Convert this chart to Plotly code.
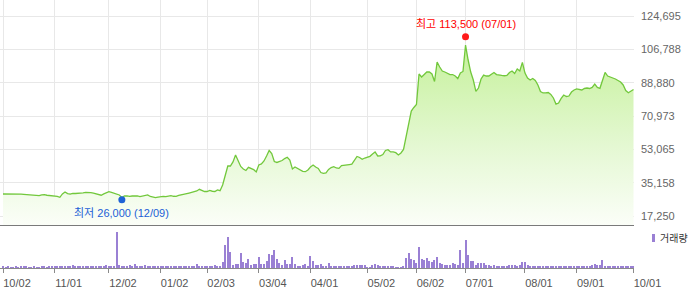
import pandas as pd
import plotly.graph_objects as go

# ---- trading calendar (KRX) ----
holidays = ['2024-10-03', '2024-10-09', '2024-12-25', '2024-12-31', '2025-01-01',
            '2025-01-27', '2025-01-28', '2025-01-29', '2025-01-30', '2025-03-03',
            '2025-05-01', '2025-05-05', '2025-05-06', '2025-06-03', '2025-06-06',
            '2025-08-15']
dates = [d.strftime('%Y-%m-%d') for d in pd.bdate_range('2024-10-02', '2025-10-01')
         if d.strftime('%Y-%m-%d') not in holidays]

tick_dates = ['2024-10-02', '2024-11-01', '2024-12-02', '2025-01-02', '2025-02-03',
              '2025-03-04', '2025-04-01', '2025-05-02', '2025-06-02', '2025-07-01',
              '2025-08-01', '2025-09-01', '2025-10-01']
tick_text = ['10/02', '11/01', '12/02', '01/02', '02/03', '03/04', '04/01',
             '05/02', '06/02', '07/01', '08/01', '09/01', '10/01']

y_ticks = [17250, 35158, 53065, 70973, 88880, 106788, 124695]
y_tick_text = ['17,250', '35,158', '53,065', '70,973', '88,880', '106,788', '124,695']

# closing prices (won)
price = [
    29070, 29070, 29100, 29300, 29350, 29450, 29100, 29050, 28900, 28800,
    28550, 28500, 28400, 28300, 28150, 28550, 28700, 28400, 28300, 28000,
    28050, 27750, 27300, 29100, 30150, 29300, 29050, 29450, 29350, 29600,
    29650, 29700, 29900, 29950, 29850, 29550, 29150, 28500, 28400, 29100,
    29900, 30300, 30000, 29600, 29150, 28550, 27200, 28000, 28100, 27750,
    28000, 28150, 28000, 27650, 27850, 28300, 28550, 27750, 27450, 27100,
    27350, 27650, 27750, 27650, 27900, 28150, 27850, 27750, 28300, 28550,
    28800, 29100, 29600, 29950, 30150, 30700, 31600, 30950, 30400, 30400,
    30950, 30550, 30400, 31250, 30850, 33900, 39500, 44100, 44100, 46300,
    50000, 46400, 43850, 42500, 41700, 43400, 43000, 42200, 40900, 44650,
    45200, 46800, 49500, 52450, 50850, 46500, 46000, 46500, 47050, 48100,
    48800, 47300, 42500, 43550, 42850, 41950, 41200, 41050, 41950, 43550,
    44650, 43550, 42800, 40600, 40200, 40400, 42250, 43300, 43750, 43050,
    42850, 44350, 44400, 44500, 44900, 45100, 47350, 49250, 48700, 47700,
    48400, 49050, 49300, 50550, 51650, 49500, 49600, 50300, 52450, 52850,
    51650, 51650, 51250, 50050, 51100, 53000, 60250, 66150, 73650, 75550,
    77150, 93550, 91900, 93250, 94600, 94600, 93550, 89500, 99980, 97300,
    95150, 94600, 93900, 93250, 93250, 92450, 91100, 94050, 94900, 109100,
    101050, 94600, 90300, 84150, 86000, 90850, 92950, 92450, 92450, 93550,
    94350, 93250, 92850, 92750, 92600, 92750, 94350, 95150, 93800, 96250,
    95150, 99800, 94050, 91400, 90300, 91100, 90050, 87650, 84150, 83350,
    83350, 83600, 82550, 80650, 77400, 77950, 80400, 82250, 81450, 81700,
    83850, 84950, 85500, 85050, 84950, 85750, 86000, 85750, 86300, 88150,
    86300, 85850, 90300, 94350, 92450, 91900, 91650, 90850, 90050, 89250,
    87650, 84650, 83500, 84400, 85200,
]

# trading volume (thousand shares)
volume = [
    120, 100, 130, 100, 100, 120, 100, 130, 200, 120,
    100, 100, 130, 100, 100, 120, 130, 100, 150, 130,
    170, 150, 200, 170, 200, 150, 150, 270, 200, 200,
    170, 200, 150, 130, 150, 170, 200, 200, 230, 150,
    300, 170, 150, 200, 3600, 300, 250, 230, 200, 270,
    200, 370, 200, 150, 170, 270, 200, 150, 150, 130,
    130, 150, 200, 130, 130, 150, 170, 130, 150, 150,
    170, 200, 150, 150, 170, 400, 200, 230, 170, 150,
    150, 150, 270, 150, 200, 600, 2270, 3070, 1600, 270,
    430, 370, 1470, 600, 500, 930, 330, 370, 370, 1070,
    370, 370, 670, 1370, 1270, 1770, 870, 500, 330, 770,
    370, 370, 1070, 370, 200, 200, 270, 370, 200, 1170,
    670, 270, 270, 370, 230, 200, 470, 230, 170, 130,
    130, 170, 170, 130, 150, 200, 270, 270, 270, 270,
    270, 100, 100, 330, 370, 270, 130, 130, 170, 130,
    200, 200, 100, 100, 100, 200, 1000, 1470, 870, 800,
    500, 2070, 870, 800, 1000, 670, 600, 830, 1070, 470,
    370, 270, 270, 270, 470, 370, 330, 1800, 530, 2770,
    1270, 700, 700, 330, 530, 500, 500, 330, 270, 230,
    270, 200, 130, 130, 170, 230, 270, 270, 270, 230,
    330, 600, 600, 270, 200, 130, 130, 170, 170, 170,
    170, 130, 150, 170, 130, 150, 170, 130, 150, 130,
    150, 130, 170, 200, 130, 130, 130, 200, 270, 370,
    270, 270, 800, 200, 200, 130, 150, 130, 130, 130,
    130, 130, 130, 130, 130,
]

n = min(len(dates), len(price), len(volume))
dates, price, volume = dates[:n], price[:n], volume[:n]

hi_idx, hi_val, hi_text = 179, 113500, '최고 113,500 (07/01)'
lo_idx, lo_val, lo_text = 46, 26000, '최저 26,000 (12/09)'

FONT = 'Liberation Sans, Arial, Noto Sans CJK KR, sans-serif'
W, H = 700, 289
ML, MR, MT, MB = 0, 66, 0, 21
PW, PH = W - ML - MR, H - MT - MB

fig = go.Figure()

fig.add_trace(go.Scatter(
    x=dates, y=price, mode='lines', xaxis='x', yaxis='y',
    line=dict(color='#72c83c', width=1.3),
    fill='tozeroy',
    fillgradient=dict(type='vertical', start=12415, stop=108000,
                      colorscale=[[0, 'rgb(251,254,248)'],
                                  [0.45, 'rgb(228,248,210)'],
                                  [1, 'rgb(198,241,156)']]),
    hoverinfo='skip', showlegend=False))

fig.add_trace(go.Scatter(
    x=[dates[hi_idx]], y=[hi_val], mode='markers', xaxis='x', yaxis='y',
    marker=dict(color='#ff1a1a', size=7), showlegend=False, hoverinfo='skip'))
fig.add_trace(go.Scatter(
    x=[dates[lo_idx]], y=[lo_val], mode='markers', xaxis='x', yaxis='y',
    marker=dict(color='#1f62d6', size=7), showlegend=False, hoverinfo='skip'))

fig.add_trace(go.Bar(
    x=dates, y=volume, xaxis='x2', yaxis='y2', width=0.42,
    marker=dict(color='#9a80d4', line=dict(width=0)),
    showlegend=False, hoverinfo='skip'))

xr = [-1.16, n - 1 + 0.19]
y_top = 124695 + 16 * 537.2
y_bot = 17250 - 9 * 537.2

fig.update_layout(
    width=W, height=H,
    margin=dict(l=ML, r=MR, t=MT, b=MB, pad=0),
    paper_bgcolor='white', plot_bgcolor='white',
    font=dict(family=FONT, size=11, color='#555'),
    bargap=0,
    xaxis=dict(domain=[0, 1], anchor='y', type='category', range=xr,
               tickvals=tick_dates, ticktext=tick_text, showticklabels=False,
               showgrid=True, gridcolor='#e8e8e8', gridwidth=1,
               showline=True, linecolor='#7a7a7a', linewidth=1, ticks='',
               zeroline=False),
    xaxis2=dict(domain=[0, 1], anchor='y2', type='category', range=xr, matches='x',
                tickvals=tick_dates, ticktext=tick_text, showgrid=False,
                showline=True, linecolor='#8a8a8a', linewidth=1,
                ticks='outside', ticklen=4, tickcolor='#8a8a8a', tickwidth=1,
                ticklabelshift=14, ticklabelstandoff=1,
                tickfont=dict(size=11, color='#555'), zeroline=False),
    yaxis=dict(domain=[(PH - 225) / PH, 1], anchor='x', side='right',
               range=[y_bot, y_top], tickvals=y_ticks, ticktext=y_tick_text,
               showgrid=True, gridcolor='#e8e8e8', gridwidth=1, zeroline=False,
               ticks='', ticklabelstandoff=6,
               tickfont=dict(size=11, color='#666')),
    yaxis2=dict(domain=[0, (PH - 226) / PH], anchor='x2', range=[0, 4200],
                showgrid=False, zeroline=False, showticklabels=False, ticks=''),
)

fig.add_annotation(x=dates[hi_idx], y=hi_val, xref='x', yref='y', text=hi_text,
                   showarrow=False, yshift=13,
                   font=dict(family=FONT, size=11, color='#ff0000'))
fig.add_annotation(x=dates[lo_idx], y=lo_val, xref='x', yref='y', text=lo_text,
                   showarrow=False, yshift=-13,
                   font=dict(family=FONT, size=11, color='#1c5fd6'))

# volume legend
fig.add_shape(type='rect', xref='paper', yref='paper',
              x0=652 / PW, x1=655 / PW, y0=(PH - 242) / PH, y1=(PH - 234) / PH,
              fillcolor='#9a80d4', line=dict(width=0))
fig.add_annotation(x=658 / PW, y=(PH - 238) / PH, xref='paper', yref='paper',
                   text='거래량', showarrow=False, xanchor='left', yanchor='middle',
                   font=dict(family=FONT, size=10, color='#333'))

fig.write_html('out.html')
